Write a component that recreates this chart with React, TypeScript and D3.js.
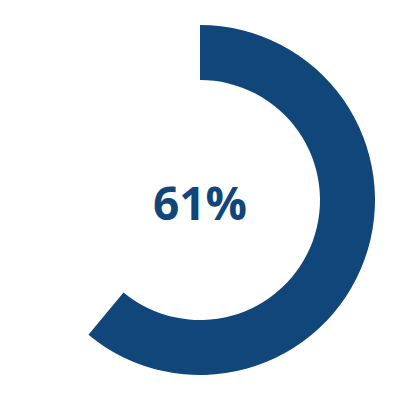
import React from 'react';
import * as d3 from 'd3';

const percent = [61];
const label = ['61%'];

const color = '#10467a';

export default function App() {
  const width = 400;
  const height = 400;
  const outer = 175;
  const inner = 120;

  const angle = d3.scaleLinear().domain([0, 100]).range([0, 2 * Math.PI]);
  const arc = d3.arc<number>()
    .innerRadius(inner)
    .outerRadius(outer)
    .startAngle(0)
    .endAngle(d => angle(d));

  return (
    <svg width={width} height={height} style={{ position: 'absolute', left: 0, top: 0 }}>
      <rect width={width} height={height} fill="#fff" />
      <g transform={`translate(${width / 2},${height / 2})`}>
        {percent.map((p, i) => (
          <path key={i} d={arc(p) || ''} fill={color} />
        ))}
        <text
          x={0}
          y={20}
          textAnchor="middle"
          fill={color}
          fontFamily="'Open Sans', sans-serif"
          fontWeight={700}
          fontSize={46}
        >
          {label[0]}
        </text>
      </g>
    </svg>
  );
}
